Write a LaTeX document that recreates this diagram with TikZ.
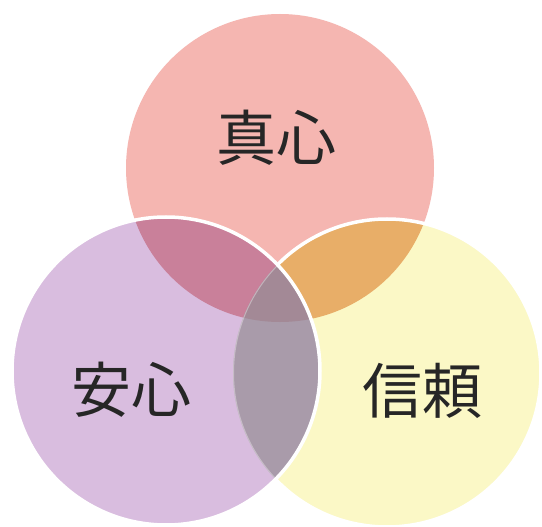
\documentclass[tikz,border=0pt]{standalone}
\usepackage{fontspec}
\newfontfamily\jpfont{Noto Sans CJK JP}
\usepackage{tikz}
\definecolor{shinpink}{HTML}{F5B6B1}
\definecolor{anpurple}{HTML}{D9BDDF}
\definecolor{raiyellow}{HTML}{FBF8C6}
\definecolor{shinan}{HTML}{C9809A}
\definecolor{shinrai}{HTML}{E8AE68}
\definecolor{anrai}{HTML}{A99BAA}
\definecolor{allthree}{HTML}{A38996}

\begin{document}
\begin{tikzpicture}[x=1pt,y=-1pt]
\tikzstyle{every node}=[font=\jpfont\fontsize{60}{60}\selectfont,text=black!85,inner sep=0pt]
\tikzstyle{rim}=[white,line width=3.5]
\def\rad{154}
\fill[white] (0,0) rectangle (542,527);
\useasboundingbox (0,0) rectangle (542,527);
\coordinate (shin) at (280,168);
\coordinate (an) at (166,371);
\coordinate (rai) at (387,373);
\fill[shinpink] (shin) circle[radius=\rad];
\fill[raiyellow] (rai) circle[radius=\rad];
\begin{scope}
\clip (shin) circle[radius=\rad];
\fill[shinrai] (rai) circle[radius=\rad];
\end{scope}
\draw[rim] (rai) circle[radius=\rad];
\fill[anpurple] (an) circle[radius=\rad];
\begin{scope}
\clip (an) circle[radius=\rad];
\fill[shinan] (shin) circle[radius=\rad];
\fill[anrai] (rai) circle[radius=\rad];
\clip (rai) circle[radius=\rad];
\fill[allthree] (shin) circle[radius=\rad];
\draw[white,opacity=.35,line width=2] (rai) circle[radius=\rad];
\end{scope}
\draw[rim] (an) circle[radius=\rad];
\node (shinshin) at (276,138) {真心};
\node (anshin) at (131,390) {安心};
\node (shinrai) at (422,391) {信頼};
\end{tikzpicture}
\end{document}
